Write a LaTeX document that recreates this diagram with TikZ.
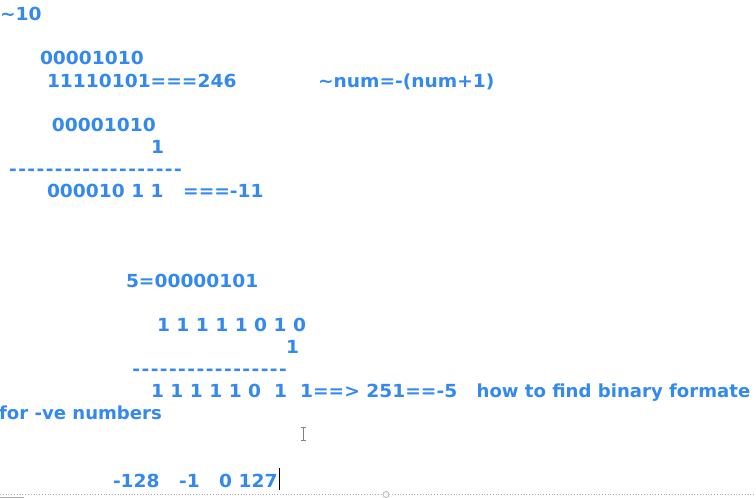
\documentclass[tikz,border=0pt]{standalone}
\usepackage{fontspec}
\setmainfont{DejaVu Sans}
\newfontfamily\boardfont{DejaVu Sans}[FakeStretch=1.035]
\newfontfamily\boardwords{DejaVu Sans}[FakeStretch=1.005]
\definecolor{inkblue}{RGB}{51,137,240}
\definecolor{rulegray}{RGB}{175,175,175}
\newcommand\hyph{\makebox[9.17pt]{-}}
\begin{document}
\begin{tikzpicture}[x=1pt,y=-1pt,
  txt/.style={anchor=base west,inner sep=0pt,outer sep=0pt,text=inkblue,font=\boardfont\fontsize{18}{20}\selectfont\bfseries},
  words/.style={txt,font=\boardwords\fontsize{18}{20}\selectfont\bfseries}]
\useasboundingbox (0,0) rectangle (756,498);
\fill[white] (0,0) rectangle (756,498);
% upper part
\node[txt] (tilde) at (0,20) {\textasciitilde10};
\node[txt] (a1) at (40,64) {00001010};
\node[txt] (a2) at (47,87) {11110101===246};
\node[txt] (rule) at (318,87) {\textasciitilde num=-(num+1)};
\node[txt] (b1) at (52,131) {00001010};
\node[txt] (b2) at (151,153) {1};
\node[txt] (b3) at (8.4,175) {\hyph\hyph\hyph\hyph\hyph\hyph\hyph\hyph\hyph\hyph\hyph\hyph\hyph\hyph\hyph\hyph\hyph\hyph\hyph};
\node[txt] (b4) at (47,197) {000010 1 1\ \ \ ===-11};
% lower part
\node[txt] (c0) at (126,287) {5=00000101};
\node[txt] (c1) at (157,331) {1 1 1 1 1 0 1 0};
\node[txt] (c2) at (286,353) {1};
\node[txt] (c3) at (131.7,375) {\hyph\hyph\hyph\hyph\hyph\hyph\hyph\hyph\hyph\hyph\hyph\hyph\hyph\hyph\hyph\hyph\hyph};
\node[txt] (c4) at (151,397) {1 1 1 1 1 0\ \ 1\ \ 1==> 251==-5\ \ \ {\boardwords how to find binary formate}};
\node[words] (c5) at (-1,419) {for -ve numbers};
\node[txt] (d1) at (113,487) {-128\ \ \ -1\ \ \ 0 127};
% text cursor and I-beam
\coordinate (cur) at (279.5,468);
\draw[black,line width=1pt] (cur) -- ++(0,22);
\coordinate (ibeam) at (303.5,427);
\draw[gray,line width=0.8pt] (ibeam) ++(-2.5,0) -- ++(5,0) (ibeam) -- ++(0,13) ++(-2.5,0) -- ++(5,0);
% bottom frame line
\coordinate (fl) at (0,494.5);
\coordinate (fr) at (756,494.5);
\draw[rulegray,line width=0.8pt,dotted] (fl) -- (fr);
\node[draw=rulegray,fill=white,circle,inner sep=0pt,minimum size=6pt,line width=0.7pt] (handle) at (386,494.5) {};
\draw[rulegray,line width=0.8pt] (0,497) -- (24,497);
\end{tikzpicture}
\end{document}
